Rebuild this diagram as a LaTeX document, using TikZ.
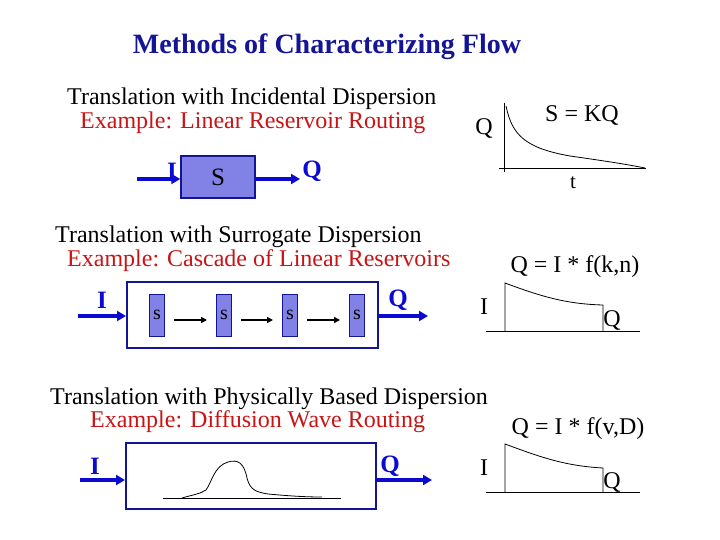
\documentclass[tikz,border=0pt]{standalone}
\usepackage{fontspec}
\setmainfont{Liberation Serif}
\usetikzlibrary{arrows.meta}
\definecolor{navy}{RGB}{20,20,150}
\definecolor{flowblue}{RGB}{10,10,210}
\definecolor{exred}{RGB}{200,20,20}
\definecolor{resfill}{RGB}{130,130,230}
\tikzset{
  txt/.style={inner sep=0pt,font=\fontsize{24}{26}\selectfont},
  redtxt/.style={txt,text=exred},
  lab/.style={inner sep=0pt,font=\bfseries\fontsize{25}{26}\selectfont,text=flowblue},
  flow/.style={flowblue,line width=3.5pt,-{Triangle[length=9pt,width=10pt]}},
  resbox/.style={draw=navy,line width=1.5pt,fill=resfill},
  bigbox/.style={draw=navy,line width=2pt,fill=white},
  thin/.style={black,line width=0.8pt},
  small/.style={draw=navy,line width=1pt,fill=resfill,minimum width=15pt,minimum height=42pt,inner sep=0pt,font=\fontsize{20}{20}\selectfont}
}
\begin{document}
\begin{tikzpicture}[x=1pt,y=-1pt]
\useasboundingbox (0,0) rectangle (720,540);
\node[inner sep=0pt,font=\bfseries\fontsize{28}{30}\selectfont,text=navy] (title) at (327,47) {Methods of Characterizing Flow};
% section 1
\node[txt,anchor=west] (t1) at (67,99) {Translation with Incidental Dispersion};
\node[redtxt,anchor=west] (e1) at (80,123) {Example: Linear Reservoir Routing};
\node[resbox,minimum width=74pt,minimum height=42pt,inner sep=0pt,font=\fontsize{25}{26}\selectfont] (s1) at (218,177) {S};
\coordinate (i1) at (137,179); \coordinate (o1) at (300,179);
\draw[flow] (i1) -- (s1.west|-i1);
\draw[flow] (s1.east|-o1) -- (o1);
\node[lab] (li1) at (172,171) {I};
\node[lab] (lo1) at (312,171) {Q};
% graph 1
\coordinate (g1a) at (504,103); \coordinate (g1b) at (504,172);
\coordinate (g1c) at (499,168); \coordinate (g1d) at (646,168);
\draw[thin] (g1a) -- (g1b); \draw[thin] (g1c) -- (g1d);
\draw[thin] (506,106) .. controls (512,135) and (525,148) .. (570,156) .. controls (605,161) and (625,164) .. (645,168);
\node[txt] (gq1) at (484,129) {Q};
\node[txt] (skq) at (582,116) {S = KQ};
\node[txt,font=\fontsize{21}{22}\selectfont] (gt1) at (573,183) {t};
% section 2
\node[txt,anchor=west] (t2) at (55,237) {Translation with Surrogate Dispersion};
\node[redtxt,anchor=west] (e2) at (67,261) {Example: Cascade of Linear Reservoirs};
\node[bigbox,minimum width=251pt,minimum height=66pt,inner sep=0pt] (b2) at (252.5,315) {};
\node[small] (sa) at (157,315) {s};
\node[small] (sb) at (224,315) {s};
\node[small] (sc) at (290,315) {s};
\node[small] (sd) at (357,315) {s};
\draw[black,line width=1.3pt,-{Triangle[length=6pt,width=6pt]}] ([shift={(9,5)}]sa.east) -- ([shift={(-9,5)}]sb.west);
\draw[black,line width=1.3pt,-{Triangle[length=6pt,width=6pt]}] ([shift={(9,5)}]sb.east) -- ([shift={(-9,5)}]sc.west);
\draw[black,line width=1.3pt,-{Triangle[length=6pt,width=6pt]}] ([shift={(9,5)}]sc.east) -- ([shift={(-9,5)}]sd.west);
\coordinate (i2) at (78,316); \coordinate (o2) at (428,316);
\draw[flow] (i2) -- (b2.west|-i2);
\draw[flow] (b2.east|-o2) -- (o2);
\node[lab] (li2) at (102,300) {I};
\node[lab] (lo2) at (398,300) {Q};
% graph 2
\node[txt] (f2) at (575,267) {Q = I * f(k,n)};
\draw[thin] (486,331) -- (640,331);
\draw[thin] (505,331) -- (505,283) .. controls (540,296) and (565,304) .. (603,305) -- (603,331);
\node[txt] (gi2) at (484,307) {I};
\node[txt] (gq2) at (612,320) {Q};
% section 3
\node[txt,anchor=west] (t3) at (50,399) {Translation with Physically Based Dispersion};
\node[redtxt,anchor=west] (e3) at (90,422) {Example: Diffusion Wave Routing};
\node[bigbox,minimum width=250pt,minimum height=66pt,inner sep=0pt] (b3) at (251,476) {};
\draw[thin] (163,498) -- (341,498);
\draw[thin] (182,498) .. controls (192,495) and (200,494) .. (206,490) .. controls (212,482) and (214,466) .. (228,462) .. controls (238,459) and (244,463) .. (247,478) .. controls (250,490) and (256,492) .. (268,494) .. controls (290,496) and (305,497) .. (322,497);
\coordinate (i3) at (80,480); \coordinate (o3) at (432,480);
\draw[flow] (i3) -- (b3.west|-i3);
\draw[flow] (b3.east|-o3) -- (o3);
\node[lab] (li3) at (95,466) {I};
\node[lab] (lo3) at (390,466) {Q};
% graph 3
\node[txt] (f3) at (578,429) {Q = I * f(v,D)};
\draw[thin] (486,492) -- (640,492);
\draw[thin] (505,492) -- (505,444) .. controls (540,457) and (565,466) .. (603,468) -- (603,492);
\node[txt] (gi3) at (484,468) {I};
\node[txt] (gq3) at (612,482) {Q};
\end{tikzpicture}
\end{document}
